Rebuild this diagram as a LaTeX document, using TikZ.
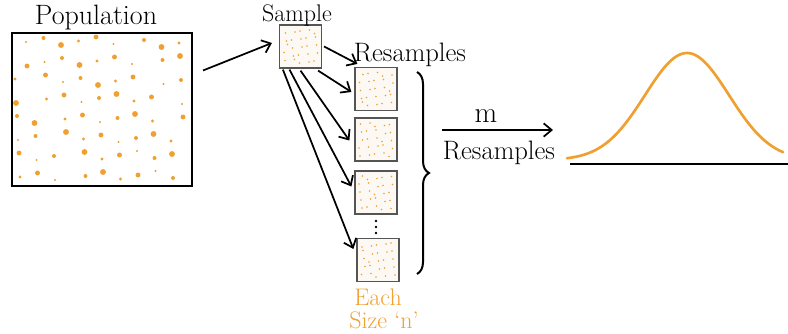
\documentclass[tikz,border=0pt]{standalone}
\usetikzlibrary{arrows.meta,decorations.pathreplacing}
\definecolor{dotorange}{HTML}{F0A030}
\definecolor{boxgray}{HTML}{555555}
\definecolor{boxfill}{HTML}{FCF9F4}
\begin{document}
\begin{tikzpicture}[x=0.75pt,y=-0.75pt,
  lbl/.style={font=\fontsize{18}{20}\selectfont, inner sep=0pt},
  olbl/.style={lbl, text=dotorange},
  popbox/.style={draw=black, line width=1.5pt, minimum width=135pt, minimum height=114.75pt, inner sep=0pt},
  smallbox/.style={draw=boxgray, fill=boxfill, line width=0.9pt, minimum width=31.5pt, minimum height=32.25pt, inner sep=0pt},
  arr/.style={line width=1.3pt, -{Straight Barb[length=6pt,width=10pt,line width=1.3pt]}},
  dot/.style={fill=dotorange, draw=none},
  curve/.style={draw=dotorange, line width=2pt, line cap=round}]
\useasboundingbox (0,0) rectangle (788,333);
\pgfmathsetseed{11}

% population
\node[popbox] (pop) at (102,109.5) {};
\node[lbl, font=\fontsize{21}{23}\selectfont] (poplbl) at (96,18) {Population};
\foreach \i in {0,...,8} {
  \foreach \j in {0,...,7} {
    \pgfmathsetmacro\px{21+\i*19.5+mod(\i*37+\j*53+11,13)-6}
    \pgfmathsetmacro\py{42+\j*19+mod(\i*29+\j*71+5,11)-5}
    \pgfmathsetmacro\pr{0.8+0.35*mod(\i*17+\j*23,5)}
    \fill[dot] (\px,\py) circle[radius=\pr pt];
  }
}

% sample
\node[smallbox] (samp) at (300.5,46.5) {};
\node[lbl] (samplbl) at (297,15) {Sample};

% resamples
\node[smallbox] (r1) at (376,89) {};
\node[smallbox] (r2) at (376,139.5) {};
\node[smallbox] (r3) at (376,192.5) {};
\node[smallbox] (r4) at (378,260) {};
\node[lbl, font=\fontsize{20}{22}\selectfont] (reslbl) at (410,55) {Resamples};

\foreach \b [count=\k] in {samp,r1,r2,r3,r4} {
  \foreach \i in {0,...,4} {
    \foreach \j in {0,...,4} {
      \pgfmathsetmacro\dx{-15+\i*7.5+0.5*(mod(\i*31+\j*47+\k*13,9)-4)}
      \pgfmathsetmacro\dy{-15+\j*7.5+0.5*(mod(\i*43+\j*19+\k*7,9)-4)}
      \fill[dot] ([shift={(\dx,\dy)}]\b.center) circle[radius=0.65pt];
    }
  }
}

% vertical dots
\foreach \yy in {221,227,233} \fill (376,\yy) circle[radius=1pt];

% arrows
\draw[arr] ([shift={(10,-39)}]pop.east) -- ([shift={(-7,-3.5)}]samp.west);
\draw[arr] ([shift={(2,0)}]samp.east) -- ([shift={(3,-3)}]r1.north west);
\draw[arr] ([shift={(-4,2)}]samp.south east) -- ([shift={(-3,3)}]r1.west);
\draw[arr] ([shift={(0,2)}]samp.south) -- ([shift={(-5,1)}]r2.west);
\draw[arr] ([shift={(-11,1)}]samp.south) -- ([shift={(-3,-6)}]r3.west);
\draw[arr] ([shift={(4,1)}]samp.south west) -- ([shift={(-3,-11)}]r4.west);

% brace
\draw[line width=1.5pt, decorate, decoration={brace, amplitude=9pt}] (417,72) -- (417,274);

% each size n
\node[olbl] (each) at (378,297) {Each};
\node[olbl] (size) at (384,320) {Size `n'};

% m resamples arrow
\coordinate (ma) at (442,130);
\coordinate (mb) at (553,130);
\draw[arr] (ma) -- (mb);
\node[lbl, font=\fontsize{22}{24}\selectfont] (mlbl) at (486,116) {m};
\node[lbl, font=\fontsize{20}{22}\selectfont] (res2) at (499,153) {Resamples};

% bell curve
\draw[curve] plot[domain=567:783, samples=80, smooth] (\x, {160-107*exp(-((\x-687)/42)^2/2)});
\draw[line width=1.3pt] (570,164) -- (788,164);
\end{tikzpicture}
\end{document}
